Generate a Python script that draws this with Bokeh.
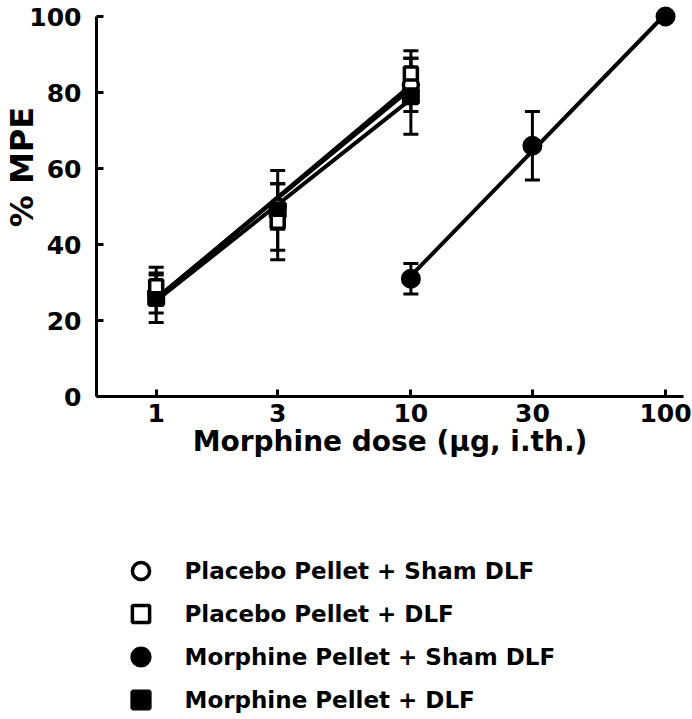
import numpy as np
from bokeh.plotting import figure
from bokeh.layouts import column
from bokeh.models import (ColumnDataSource, Whisker, TeeHead, Legend, LegendItem,
                          FixedTicker, Range1d)
from bokeh.embed import file_html
from bokeh.resources import INLINE

# ---------------- data ----------------
doses_low = [1, 3, 10]
doses_high = [10, 30, 100]
placebo_sham = [27, 50, 82]
placebo_sham_err = [5, 6, 7]
placebo_dlf = [29, 46, 85]
placebo_dlf_err = [5, 10, 6]
morphine_sham = [31, 66, 100]
morphine_sham_err = [4, 9, 0]
morphine_dlf = [26, 49, 79]
morphine_dlf_err = [6.5, 10.5, 10]
x_ticks = [1, 3, 10, 30, 100]
x_tick_labels = ["1", "3", "10", "30", "100"]
y_ticks = [0, 20, 40, 60, 80, 100]
names = ["Placebo Pellet + Sham DLF", "Placebo Pellet + DLF",
         "Morphine Pellet + Sham DLF", "Morphine Pellet + DLF"]
x_label = "Morphine dose (\u03bcg, i.th.)"
y_label = "% MPE"

FONT = "DejaVu Sans"
W = 692
H_TOP, H_LEG = 480, 239
LEFT, RIGHT_B, TOP_B, BOTTOM = 93, 9, 4, 396
X0, X1 = 0.583, 117.6
Y0, Y1 = 0, 103.16

p = figure(width=W, height=H_TOP, x_axis_type="log", output_backend="svg",
           toolbar_location=None, x_range=Range1d(X0, X1), y_range=Range1d(Y0, Y1),
           min_border=0, min_border_left=LEFT, min_border_right=RIGHT_B,
           min_border_top=TOP_B, min_border_bottom=H_TOP - BOTTOM)
p.grid.visible = False
p.outline_line_color = None
p.background_fill_color = "white"

# axes
for ax in (p.xaxis[0], p.yaxis[0]):
    ax.axis_line_width = 3
    ax.major_tick_line_width = 3
    ax.major_tick_in = 7
    ax.major_tick_out = 0
    ax.minor_tick_line_color = None
    ax.major_label_text_font = FONT
    ax.major_label_text_font_style = "bold"
    ax.major_label_text_font_size = "25px"
    ax.major_label_text_color = "black"
    ax.axis_line_color = "black"
    ax.major_tick_line_color = "black"
    ax.axis_label_text_font = FONT
    ax.axis_label_text_font_style = "bold"
    ax.axis_label_text_color = "black"
p.xaxis.ticker = FixedTicker(ticks=x_ticks)
p.xaxis.major_label_overrides = {t: l for t, l in zip(x_ticks, x_tick_labels)}
p.xaxis.major_label_standoff = 7
p.xaxis.axis_label = x_label
p.xaxis.axis_label_text_font_size = "28px"
p.xaxis.axis_label_standoff = 0
p.yaxis.ticker = FixedTicker(ticks=y_ticks)
p.yaxis.bounds = (y_ticks[0], y_ticks[-1])
p.yaxis.major_label_standoff = 15
# leading no-break spaces lift the label toward the upper part of the axis
p.yaxis.axis_label = "\u00a0" * 6 + y_label
p.yaxis.axis_label_text_font_size = "32px"
p.yaxis.axis_label_standoff = -15

# regression lines (fit in log dose)
def fit_line(doses, vals):
    lx = np.log10(doses)
    b, a = np.polyfit(lx, vals, 1)
    xs = np.array([lx.min(), lx.max()])
    return list(10 ** xs), list(a + b * xs)

series = [
    (doses_low, placebo_sham, placebo_sham_err),
    (doses_low, placebo_dlf, placebo_dlf_err),
    (doses_high, morphine_sham, morphine_sham_err),
    (doses_low, morphine_dlf, morphine_dlf_err),
]
for d, v, e in series:
    lx, ly = fit_line(d, v)
    p.line(lx, ly, line_color="black", line_width=4)

# error bars
for d, v, e in series:
    keep = [i for i in range(len(d)) if e[i] > 0]
    src = ColumnDataSource(dict(
        base=[d[i] for i in keep],
        upper=[v[i] + e[i] for i in keep],
        lower=[v[i] - e[i] for i in keep]))
    w = Whisker(source=src, base="base", upper="upper", lower="lower",
                dimension="height", line_width=3, line_color="black",
                upper_head=TeeHead(size=15, line_width=3, line_color="black"),
                lower_head=TeeHead(size=15, line_width=3, line_color="black"))
    w.level = "underlay"
    p.add_layout(w)

# marker styles
styles = [
    dict(marker="circle", fill_color="white", line_color="black", line_width=3.5),
    dict(marker="square", fill_color="white", line_color="black", line_width=3.5),
    dict(marker="circle", fill_color="black", line_color="black", line_width=4),
    dict(marker="square", fill_color="black", line_color="black", line_width=4),
]
# draw order: open circle, filled markers, open square on top
p.scatter(doses_low, placebo_sham, size=15, **styles[0])
p.scatter(doses_high, morphine_sham, size=16, **styles[2])
p.scatter(doses_low, morphine_dlf, size=14, **styles[3])
p.scatter(doses_low, placebo_dlf, size=13, **styles[1])

# ---------------- legend panel ----------------
q = figure(width=W, height=H_LEG, output_backend="svg", toolbar_location=None,
           x_axis_location=None, y_axis_location=None, min_border=0,
           min_border_left=LEFT, min_border_right=RIGHT_B,
           x_range=Range1d(X0, X1), y_range=Range1d(Y0, Y1), x_axis_type="log")
q.grid.visible = False
q.outline_line_color = None
leg_data = [(doses_low, placebo_sham), (doses_low, placebo_dlf),
            (doses_high, morphine_sham), (doses_low, morphine_dlf)]
leg_renderers = [q.scatter(d, v, size=10, visible=False, **s)
                 for (d, v), s in zip(leg_data, styles)]

row_h = 43
legend = Legend(items=[LegendItem(label=n, renderers=[r])
                       for n, r in zip(names, leg_renderers)],
                location=(137 - row_h / 2 - LEFT, -2),
                glyph_width=row_h, glyph_height=row_h, label_height=row_h, spacing=0,
                label_standoff=23, padding=0, margin=0,
                label_text_font=FONT, label_text_font_style="bold",
                label_text_font_size="23px", label_text_color="black",
                label_text_baseline="middle",
                border_line_color=None, background_fill_alpha=0,
                inactive_fill_alpha=0)
q.add_layout(legend, "center")

layout = column(p, q, spacing=0)
open("out.html", "w").write(file_html(layout, INLINE))
